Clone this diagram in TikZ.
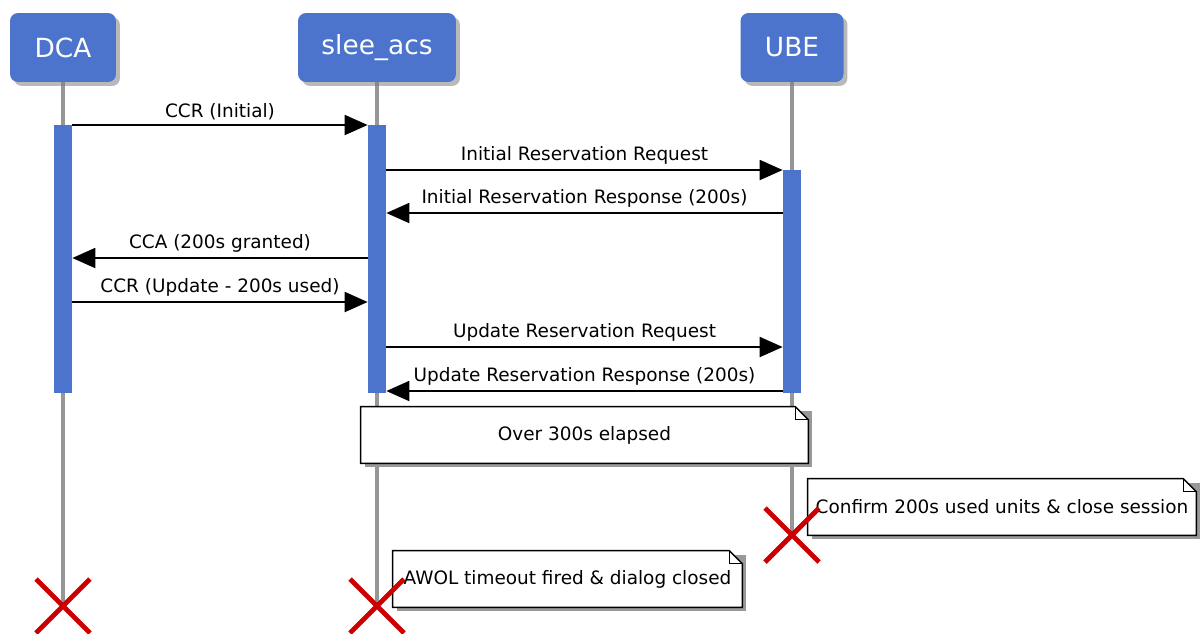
\documentclass[tikz,border=0pt]{standalone}
\usepackage{fontspec}
\setmainfont{DejaVu Sans}
\usetikzlibrary{arrows.meta,shadows,backgrounds}

\definecolor{headblue}{RGB}{76,116,204}
\definecolor{lifegrey}{RGB}{150,150,150}
\definecolor{crossred}{RGB}{204,0,0}

\begin{document}
\begin{tikzpicture}[x=0.02cm, y=-0.02cm,
  >={Triangle[length=0.46cm, width=0.4cm]},
  head/.style={rounded corners=0.16cm, fill=headblue, text=white,
    minimum height=1.38cm, font=\fontsize{15}{18}\selectfont,
    drop shadow={shadow xshift=0.08cm, shadow yshift=-0.08cm, opacity=.55}},
  act/.style={fill=headblue, minimum width=0.36cm, inner sep=0pt},
  life/.style={draw=lifegrey, line width=2pt},
  msg/.style={line width=1.1pt},
  lbl/.style={midway, above, inner sep=2.5pt, font=\fontsize{10.5}{12}\selectfont},
  note/.style={minimum height=1.12cm, inner sep=0pt, font=\fontsize{10.5}{12}\selectfont},
  cross/.style={draw=crossred, line width=2.8pt}]
  \useasboundingbox (0,0) rectangle (1200,633);

  % heads
  \node(DCA)[head, minimum width=2.12cm] at (63,47.5) {DCA};
  \node(ACS)[head, minimum width=3.16cm] at (377,47.5) {slee\_acs};
  \node(UBE)[head, minimum width=2.06cm] at (792,47.5) {UBE};

  % activations
  \node(aD)[act, minimum height=5.36cm] at (63,259) {};
  \node(aA)[act, minimum height=5.36cm] at (377,259) {};
  \node(aU)[act, minimum height=4.46cm] at (792,281.5) {};

  % notes
  \node(N1)[note, minimum width=8.94cm] at (584.5,435) {Over 300s elapsed};
  \node(N2)[note, minimum width=7.76cm] at (1002,507) {Confirm 200s used units \& close session};
  \node(N3)[note, minimum width=6.98cm] at (567.5,579) {AWOL timeout fired \& dialog closed};

  \coordinate (xD) at (63,606);
  \coordinate (xA) at (377,606);
  \coordinate (xU) at (792,535);

  \begin{pgfonlayer}{background}
    \draw[life] (DCA) -- (xD);
    \draw[life] (ACS) -- (xA);
    \draw[life] (UBE) -- (xU);
    \foreach \n in {N1,N2,N3}{
      \fill[black!40] ([shift={(4,4)}]\n.south west) rectangle ([shift={(4,4)}]\n.north east);
      \filldraw[fill=white, line width=0.8pt] (\n.south west) -- (\n.north west)
        -- ([xshift=-0.26cm]\n.north east) -- ([yshift=-0.26cm]\n.north east)
        -- (\n.south east) -- cycle;
      \draw[line width=0.6pt] ([xshift=-0.26cm]\n.north east) |- ([yshift=-0.26cm]\n.north east);
    }
  \end{pgfonlayer}

  % messages
  \foreach \i/\y in {1/125,2/170,3/213,4/258,5/302,6/347,7/391}
    \coordinate (r\i) at (0,\y);
  \draw[msg, ->] (aD.east |- r1) -- node[lbl] {CCR (Initial)} (aA.west |- r1);
  \draw[msg, ->] (aA.east |- r2) -- node[lbl] {Initial Reservation Request} (aU.west |- r2);
  \draw[msg, ->] (aU.west |- r3) -- node[lbl] {Initial Reservation Response (200s)} (aA.east |- r3);
  \draw[msg, ->] (aA.west |- r4) -- node[lbl] {CCA (200s granted)} (aD.east |- r4);
  \draw[msg, ->] (aD.east |- r5) -- node[lbl] {CCR (Update - 200s used)} (aA.west |- r5);
  \draw[msg, ->] (aA.east |- r6) -- node[lbl] {Update Reservation Request} (aU.west |- r6);
  \draw[msg, ->] (aU.west |- r7) -- node[lbl] {Update Reservation Response (200s)} (aA.east |- r7);

  % crosses
  \foreach \c in {xD,xA,xU}
    \draw[cross] ([shift={(-27,-27)}]\c) -- ([shift={(27,27)}]\c)
      ([shift={(-27,27)}]\c) -- ([shift={(27,-27)}]\c);
\end{tikzpicture}
\end{document}
